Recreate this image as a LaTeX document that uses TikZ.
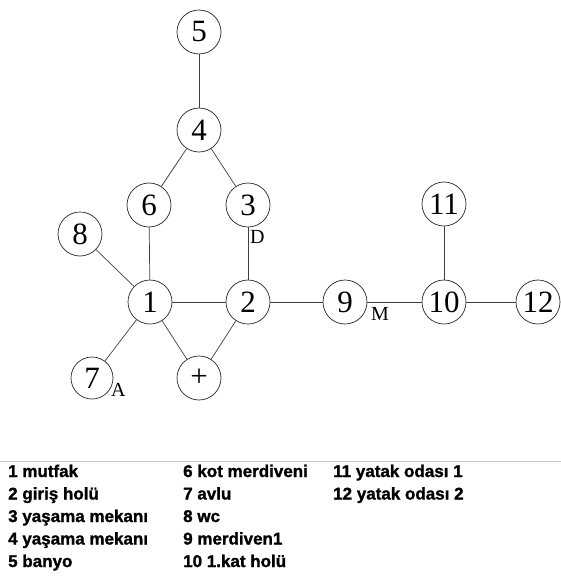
\documentclass[tikz,border=0pt]{standalone}
\usepackage{fontspec}
\setmainfont{Liberation Serif}
\newfontfamily\legendfont{Liberation Sans}[BoldFeatures={FakeBold=1.3}]
\begin{document}
\begin{tikzpicture}[x=1pt,y=-1pt,
  room/.style={circle, draw=black!85, line width=0.7pt, minimum size=44pt, inner sep=0pt,
    font=\fontsize{31}{31}\selectfont},
  link/.style={draw=black!75, line width=0.7pt},
  tag/.style={anchor=base west, inner sep=0pt, font=\fontsize{20}{20}\selectfont},
  legend/.style={anchor=base west, inner sep=0pt, font=\legendfont\bfseries\fontsize{17}{22}\selectfont}]
  \useasboundingbox (0,0) rectangle (561,581);

  % rooms
  \node[room] (n5)  at (199,32)  {5};
  \node[room] (n4)  at (199,130) {4};
  \node[room] (n6)  at (149,205) {6};
  \node[room] (n3)  at (248,205) {3};
  \node[room] (n8)  at (80,234)  {8};
  \node[room] (n1)  at (150,302) {1};
  \node[room] (n2)  at (248,302) {2};
  \node[room] (n9)  at (345,302) {9};
  \node[room] (n10) at (444,302) {10};
  \node[room] (n11) at (444,204) {11};
  \node[room] (n12) at (538,302) {12};
  \node[room, minimum size=42pt] (n7) at (92,378) {7};
  \node[room] (nx)  at (199,378) {+};

  % connections
  \draw[link] (n5) -- (n4);
  \draw[link] (n4) -- (n6);
  \draw[link] (n4) -- (n3);
  \draw[link] (n6) -- (n1);
  \draw[link] (n3) -- (n2);
  \draw[link] (n8) -- (n1);
  \draw[link] (n1) -- (n2);
  \draw[link] (n1) -- (n7);
  \draw[link] (n1) -- (nx);
  \draw[link] (n2) -- (nx);
  \draw[link] (n2) -- (n9);
  \draw[link] (n9) -- (n10);
  \draw[link] (n10) -- (n11);
  \draw[link] (n10) -- (n12);

  % letter marks
  \node[tag] (tD) at (250,243) {D};
  \node[tag] (tM) at (371,320) {M};
  \node[tag] (tA) at (111,396) {A};

  % separator
  \coordinate (sepL) at (0,461);
  \coordinate (sepR) at (561,461);
  \draw[draw=black!22, line width=0.8pt] (sepL) -- (sepR);

  % legend
  \node[legend] (l1)  at (8,477)     {1 mutfak};
  \node[legend] (l2)  at (8,499.5)   {2 giriş holü};
  \node[legend] (l3)  at (8,522)     {3 yaşama mekanı};
  \node[legend] (l4)  at (8,544.5)   {4 yaşama mekanı};
  \node[legend] (l5)  at (8,567)     {5 banyo};
  \node[legend] (l6)  at (183,477)   {6 kot merdiveni};
  \node[legend] (l7)  at (183,499.5) {7 avlu};
  \node[legend] (l8)  at (183,522)   {8 wc};
  \node[legend] (l9)  at (183,544.5) {9 merdiven1};
  \node[legend] (l10) at (183,567)   {10 1.kat holü};
  \node[legend] (l11) at (333,477)   {11 yatak odası 1};
  \node[legend] (l12) at (333,499.5) {12 yatak odası 2};
\end{tikzpicture}
\end{document}
